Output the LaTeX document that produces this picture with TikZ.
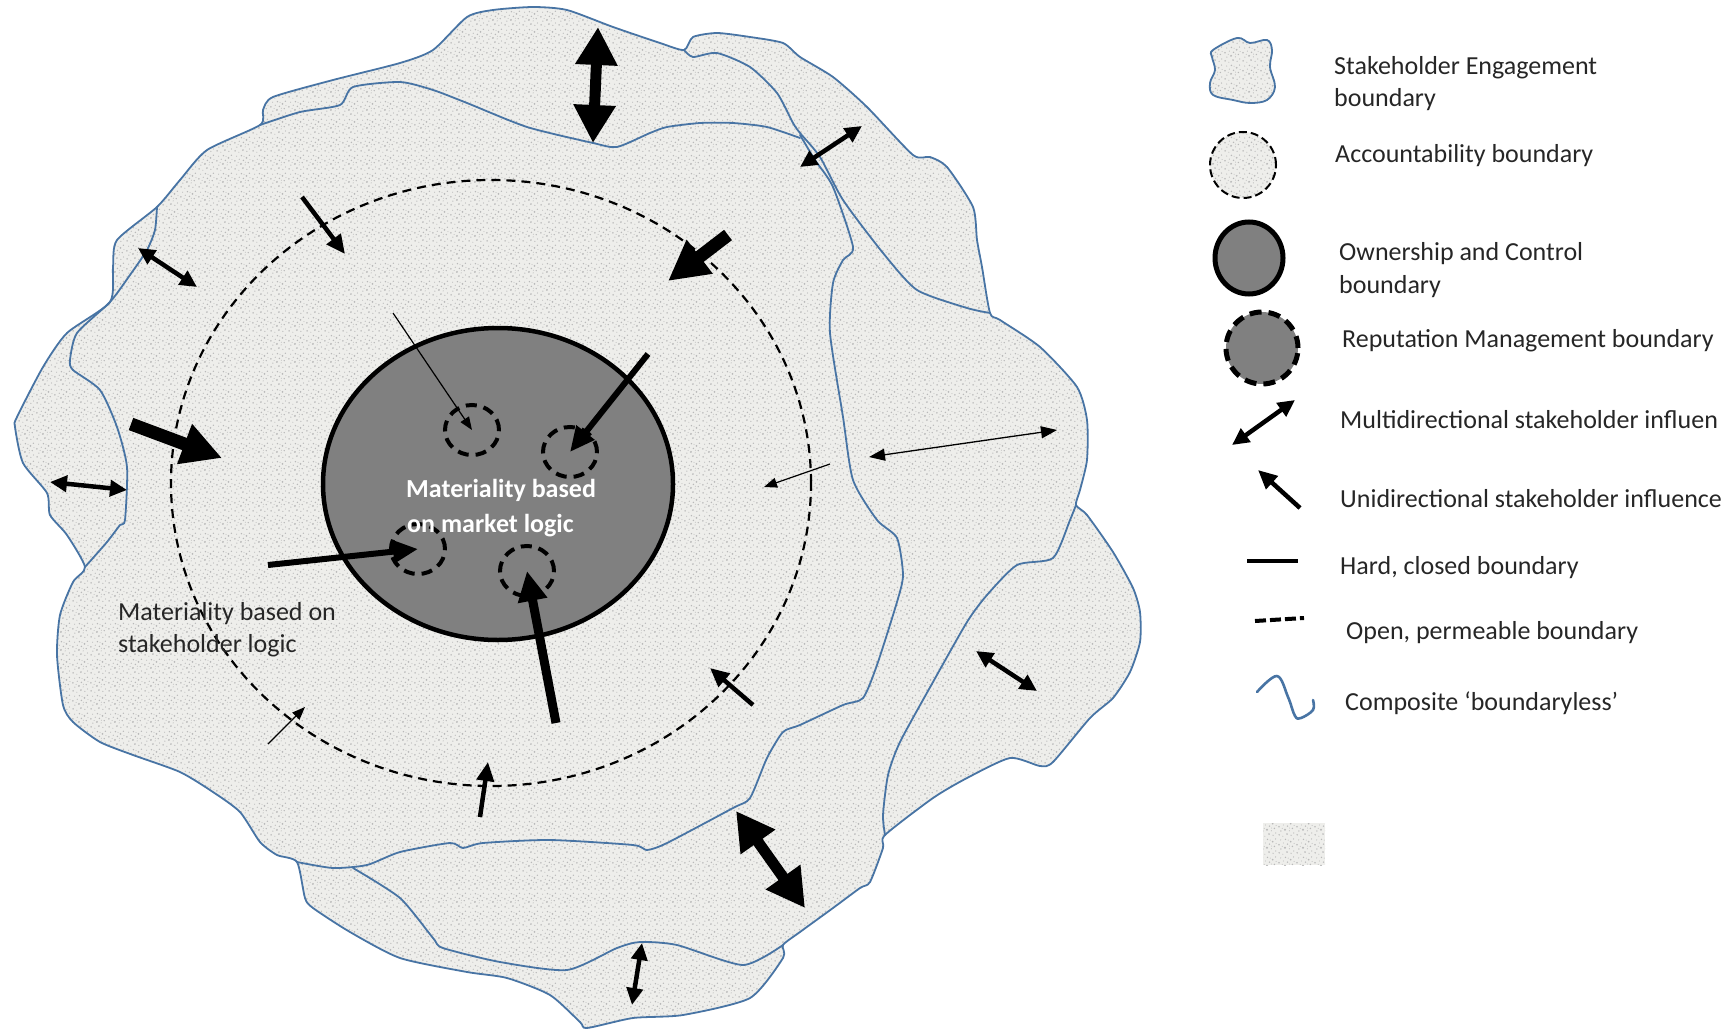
\documentclass[tikz,border=0pt]{standalone}
\usepackage{fontspec}
\setmainfont{Carlito}
\usetikzlibrary{arrows.meta,shapes.geometric,patterns.meta}

\definecolor{granitebg}{RGB}{238,238,235}
\definecolor{edgeblue}{RGB}{72,116,164}
\definecolor{owngray}{RGB}{128,128,128}
\definecolor{inktext}{RGB}{38,38,38}

\newcommand{\diagfont}{\fontsize{26pt}{33pt}\selectfont}

\tikzdeclarepattern{
  name=granite,
  type=uncolored,
  bounding box={(0pt,0pt) and (18pt,18pt)},
  tile size={(18pt,18pt)},
  code={
    \fill (1.2pt,2.3pt) circle (0.9pt);
    \fill (5.1pt,0.8pt) circle (0.6pt);
    \fill (9.4pt,3.1pt) circle (1.0pt);
    \fill (13.6pt,1.7pt) circle (0.7pt);
    \fill (16.4pt,4.2pt) circle (0.6pt);
    \fill (3.0pt,6.2pt) circle (0.7pt);
    \fill (7.3pt,7.5pt) circle (1.1pt);
    \fill (11.8pt,6.4pt) circle (0.6pt);
    \fill (15.0pt,8.9pt) circle (0.8pt);
    \fill (1.0pt,10.7pt) circle (0.9pt);
    \fill (5.6pt,12.4pt) circle (0.6pt);
    \fill (9.9pt,11.2pt) circle (0.8pt);
    \fill (13.2pt,13.8pt) circle (1.0pt);
    \fill (16.8pt,12.0pt) circle (0.5pt);
    \fill (2.8pt,15.6pt) circle (0.6pt);
    \fill (7.8pt,16.2pt) circle (0.8pt);
    \fill (12.0pt,9.3pt) circle (0.5pt);
    \fill (4.4pt,9.0pt) circle (0.5pt);
    \fill (10.6pt,15.4pt) circle (0.5pt);
    \fill (16.2pt,16.6pt) circle (0.7pt);
  }
}

\tikzset{
  granitefill/.style={preaction={fill=granitebg}, pattern=granite, pattern color=gray!55},
  blueline/.style={draw=edgeblue, line width=1.8pt, line join=round, line cap=round},
  accbound/.style={ellipse, draw=black, line width=2.2pt, dash pattern=on 9pt off 6pt,
    minimum width=640pt, minimum height=606pt, inner sep=0pt},
  ownbound/.style={ellipse, draw=black, fill=owngray, line width=4.5pt,
    minimum width=350pt, minimum height=312pt, inner sep=0pt},
  repbound/.style={ellipse, draw=black, line width=4pt, dash pattern=on 11pt off 7pt,
    minimum width=54pt, minimum height=50pt, inner sep=0pt},
  maintext/.style={font=\diagfont\bfseries, text=white, inner sep=0pt, anchor=base west},
  bodytext/.style={font=\diagfont, text=inktext, inner sep=0pt, anchor=base west},
  thinarrow/.style={line width=1.2pt, -{Triangle[length=13pt,width=10pt]}},
  thinboth/.style={line width=1.3pt, {Triangle[length=16pt,width=12pt]}-{Triangle[length=16pt,width=12pt]}},
  medarrow/.style={line width=4.5pt, -{Triangle[length=19pt,width=17pt]}},
  medboth/.style={line width=4.5pt, {Triangle[length=17pt,width=16pt]}-{Triangle[length=17pt,width=16pt]}},
  heavyarrow/.style={line width=6pt, -{Triangle[length=25pt,width=22pt]}},
  boldarrow/.style={line width=9pt, -{Triangle[length=30pt,width=28pt]}},
  bigarrow/.style={line width=13pt, -{Triangle[length=40pt,width=40pt]}},
  bigboth/.style={line width=11pt, {Triangle[length=38pt,width=40pt]}-{Triangle[length=38pt,width=40pt]}},
}

\begin{document}
\begin{tikzpicture}[x=1pt,y=-1pt]
  \useasboundingbox (0,0) rectangle (1736,1035);

  % composite stakeholder engagement area
  \path[granitefill, blueline] plot[smooth cycle, tension=0.4] coordinates {
    (260,125) (263,110) (273,97) (333,80) (400,63) (433,50) (467,17) (493,10) (533,7)
    (567,10) (613,27) (660,43) (684,50) (693,37) (717,33) (750,37) (783,43) (800,57)
    (833,77) (867,107) (913,155) (930,157) (947,167) (973,207) (977,240) (982,267)
    (990,313) (1000,320) (1040,347) (1077,387) (1087,420) (1087,460) (1080,490)
    (1076,505) (1087,515) (1113,552) (1133,588) (1140,612) (1140,642) (1130,672)
    (1113,698) (1090,718) (1053,762) (1040,766) (1010,758) (967,778) (933,798)
    (885,835) (883,848) (870,882) (860,888) (833,908) (800,932) (783,945) (783,958)
    (750,998) (683,1015) (633,1018) (587,1028) (580,1022) (550,995) (507,978)
    (467,972) (400,958) (350,932) (313,908) (305,898) (297,862) (277,855) (260,842)
    (240,812) (213,792) (180,772) (133,755) (100,742) (73,722) (63,705) (57,655)
    (60,615) (73,582) (85,567) (67,535) (50,515) (47,493) (23,463) (15,427) (17,417)
    (43,367) (67,333) (110,302) (113,267) (117,240) (157,207) (180,180) (207,150)};
  % inner outlines
  \draw[blueline] plot[smooth, tension=0.4] coordinates {
    (800,138) (767,127) (733,123) (700,123) (667,127) (650,133) (617,147) (593,143)
    (527,127) (467,103) (433,90) (400,82) (353,87) (340,105) (300,112) (260,125)};
  \draw[blueline] plot[smooth, tension=0.4] coordinates {
    (157,207) (155,230) (147,250) (130,275) (110,302) (77,333) (70,360) (73,370)
    (100,390) (117,427) (127,467) (125,520) (120,525) (107,542) (85,567)};
  \draw[blueline] plot[smooth, tension=0.4] coordinates {
    (684,50) (693,57) (717,53) (750,67) (777,93) (793,123) (800,133) (820,157)
    (843,200) (883,253) (917,290) (967,308) (990,313)};
  \draw[blueline] plot[smooth, tension=0.4] coordinates {
    (800,135) (815,160) (833,187) (853,247) (843,260) (833,283) (830,333) (843,417)
    (853,480) (877,520) (897,538) (903,575) (897,602) (877,665) (863,698) (843,705)
    (800,725) (783,732) (767,758) (750,798) (733,808) (667,843) (647,850) (633,845)
    (550,840) (483,843) (463,848) (450,843) (400,852) (367,865) (333,868) (297,862)};
  \draw[blueline] plot[smooth, tension=0.4] coordinates {
    (1076,505) (1070,520) (1053,558) (1017,565) (987,595) (967,622) (933,682)
    (900,742) (888,775) (883,815) (885,835)};
  \draw[blueline] plot[smooth, tension=0.4] coordinates {
    (353,868) (400,898) (433,938) (443,948) (500,962) (567,970) (617,948) (640,942)
    (677,945) (743,965) (783,945)};

  % boundaries
  \node[accbound] (acc) at (491,483) {};
  \node[ownbound] (own) at (498,484) {};
  \node[repbound] (rep1) at (472,430) {};
  \node[repbound] (rep2) at (570,452) {};
  \node[repbound] (rep3) at (418,549) {};
  \node[repbound] (rep4) at (527,571) {};

  % labels
  \node[maintext] (mkta) at (406,497) {Materiality based};
  \node[maintext] (mktb) at (407,532) {on market logic};
  \node[bodytext] (stka) at (118,620) {Materiality based on};
  \node[bodytext] (stkb) at (118,652) {stakeholder logic};

  % influence arrows
  \coordinate (topA) at (598,27);   \coordinate (topB) at (593,143);
  \coordinate (neA) at (800,167);   \coordinate (neB) at (862,126);
  \coordinate (nwA) at (138,248);   \coordinate (nwB) at (197,287);
  \coordinate (wA) at (50,482);     \coordinate (wB) at (127,490);
  \coordinate (seA) at (736,811);   \coordinate (seB) at (805,908);
  \coordinate (lrA) at (976,651);   \coordinate (lrB) at (1037,691);
  \coordinate (btA) at (642,943);   \coordinate (btB) at (632,1005);
  \coordinate (eaA) at (869,457);   \coordinate (eaB) at (1057,430);
  \coordinate (inNW) at (302,197);  \coordinate (tipNW) at (345,254);
  \coordinate (inW) at (131,424);   \coordinate (tipW) at (222,458);
  \coordinate (inNE) at (728,235);  \coordinate (tipNE) at (668,281);
  \coordinate (inS) at (480,817);   \coordinate (tipS) at (488,762);
  \coordinate (inSE) at (753,705);  \coordinate (tipSE) at (710,668);
  \coordinate (inSW) at (268,744);  \coordinate (tipSW) at (305,707);
  \coordinate (inE) at (830,464);   \coordinate (tipE) at (764,487);
  \coordinate (srcR1) at (393,313);
  \coordinate (srcR2) at (648,354);
  \coordinate (srcR3) at (268,565);
  \coordinate (srcR4) at (556,723);

  \draw[bigboth] (topA) -- (topB);
  \draw[bigboth] (seA) -- (seB);
  \draw[medboth] (neA) -- (neB);
  \draw[medboth] (nwA) -- (nwB);
  \draw[medboth] (wA) -- (wB);
  \draw[medboth] (lrA) -- (lrB);
  \draw[medboth] (btA) -- (btB);
  \draw[thinboth] (eaA) -- (eaB);
  \draw[medarrow] (inNW) -- (tipNW);
  \draw[bigarrow] (inW) -- (tipW);
  \draw[bigarrow] (inNE) -- (tipNE);
  \draw[medarrow] (inS) -- (tipS);
  \draw[medarrow] (inSE) -- (tipSE);
  \draw[thinarrow] (inSW) -- (tipSW);
  \draw[thinarrow] (inE) -- (tipE);
  \draw[thinarrow] (srcR1) -- (rep1.center);
  \draw[heavyarrow] (srcR2) -- (rep2.center);
  \draw[heavyarrow] (srcR3) -- (rep3.center);
  \draw[boldarrow] (srcR4) -- (rep4.center);

  % key
  \path[granitefill, blueline] plot[smooth cycle, tension=0.6] coordinates {
    (1213,50) (1237,38) (1250,43) (1267,40) (1272,50) (1270,67) (1275,87) (1267,100)
    (1250,103) (1233,100) (1213,95) (1210,83) (1215,70) (1212,57)};
  \node[bodytext] (lgEngage) at (1334,75) {Stakeholder Engagement};
  \node[bodytext] (lgEngageB) at (1334,107) {boundary};

  \node[circle, granitefill, draw=black, line width=2pt, dash pattern=on 8pt off 4pt,
    minimum size=66pt, inner sep=0pt] (keyAcc) at (1243,165) {};
  \node[bodytext] (lgAcc) at (1335,163) {Accountability boundary};

  \node[ellipse, draw=black, fill=owngray, line width=5pt, minimum width=68pt,
    minimum height=72pt, inner sep=0pt] (keyOwn) at (1249,258) {};
  \node[bodytext] (lgOwn) at (1339,260) {Ownership and Control};
  \node[bodytext] (lgOwnB) at (1339,293) {boundary};

  \node[circle, draw=black, fill=owngray, line width=5pt, dash pattern=on 12pt off 7pt,
    minimum size=72pt, inner sep=0pt] (keyRep) at (1262,348) {};
  \node[bodytext] (lgRep) at (1342,347) {Reputation Management boundary};

  \coordinate (keyMultiA) at (1232,445); \coordinate (keyMultiB) at (1295,400);
  \draw[medboth] (keyMultiA) -- (keyMultiB);
  \node[bodytext] (lgMulti) at (1340,428) {Multidirectional stakeholder influen};
  \coordinate (keyUniA) at (1300,508); \coordinate (keyUniB) at (1258,470);
  \draw[medarrow] (keyUniA) -- (keyUniB);
  \node[bodytext] (lgUni) at (1340,507) {Unidirectional stakeholder influence};

  \coordinate (keyHardA) at (1247,561); \coordinate (keyHardB) at (1298,561);
  \draw[line width=4pt] (keyHardA) -- (keyHardB);
  \node[bodytext] (lgHard) at (1340,574) {Hard, closed boundary};

  \coordinate (keyOpenA) at (1255,621); \coordinate (keyOpenB) at (1304,618);
  \draw[line width=4pt, dash pattern=on 11pt off 4pt] (keyOpenA) -- (keyOpenB);
  \node[bodytext] (lgOpen) at (1346,639) {Open, permeable boundary};

  \draw[blueline, line width=2.6pt] plot[smooth, tension=0.6] coordinates {
    (1257,692) (1277,676) (1288,697) (1295,716) (1301,718) (1313,710) (1313,700)};
  \node[bodytext] (lgComp) at (1345,710) {Composite ‘boundaryless’};

  \path[granitefill] (1263,823) rectangle (1325,865);
\end{tikzpicture}
\end{document}
